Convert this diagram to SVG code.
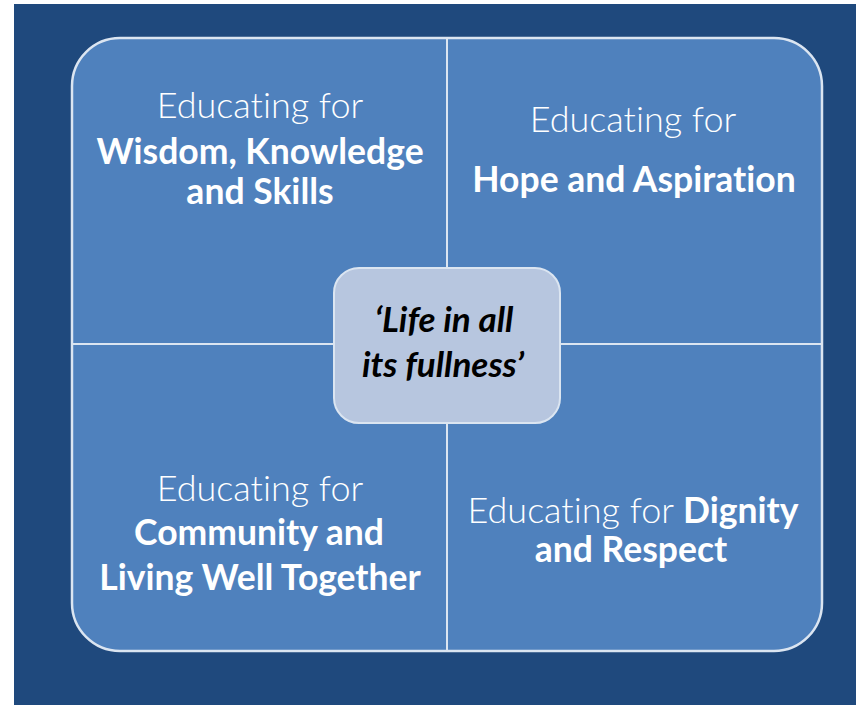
<svg xmlns="http://www.w3.org/2000/svg" width="856" height="705" viewBox="0 0 856 705">
<style>
text{font-variant-ligatures:none;font-feature-settings:"liga" 0,"dlig" 0}
.lt{font-family:Lato,"Open Sans",sans-serif;font-weight:300;font-size:36px;fill:#ffffff;text-anchor:middle}
.bd{font-family:Lato,"Open Sans",sans-serif;font-weight:700;font-size:35.5px;fill:#ffffff;text-anchor:middle}
.ct{font-family:Lato,"Open Sans",sans-serif;font-weight:700;font-style:italic;font-size:35px;fill:#000000;text-anchor:middle}
.div{stroke:#dbe5f1;stroke-width:2;fill:none}
</style>
<rect x="0" y="0" width="856" height="705" fill="#ffffff"/>
<rect x="14" y="4" width="842" height="701" fill="#1f497d"/>
<g id="frame">
<rect x="72" y="38" width="750" height="613" rx="48" ry="48" fill="#4f81bd" stroke="#dbe5f1" stroke-width="2.5"/>
</g>
<g id="dividers">
<line class="div" x1="447" y1="38" x2="447" y2="651"/>
<line class="div" x1="72" y1="344" x2="822" y2="344"/>
</g>
<g id="wisdom">
<text class="lt" x="260" y="118">Educating for</text>
<text class="bd" x="260" y="164">Wisdom, Knowledge</text>
<text class="bd" x="260" y="204">and Skills</text>
</g>
<g id="hope">
<text class="lt" x="633" y="132">Educating for</text>
<text class="bd" x="634" y="192">Hope and Aspiration</text>
</g>
<g id="community">
<text class="lt" x="260" y="501">Educating for</text>
<text class="bd" x="259" y="545">Community and</text>
<text class="bd" x="260" y="590">Living Well Together</text>
</g>
<g id="dignity">
<text class="lt" x="633" y="523">Educating for <tspan style="font-weight:700;font-size:35.5px">Dignity</tspan></text>
<text class="bd" x="631" y="562">and Respect</text>
</g>
<g id="centre">
<rect x="334" y="268" width="226" height="155" rx="25" ry="25" fill="#b7c6df" stroke="#dbe5f1" stroke-width="2"/>
<text class="ct" x="444" y="332">‘Life in all</text>
<text class="ct" x="443" y="377">its fullness’</text>
</g>
</svg>
